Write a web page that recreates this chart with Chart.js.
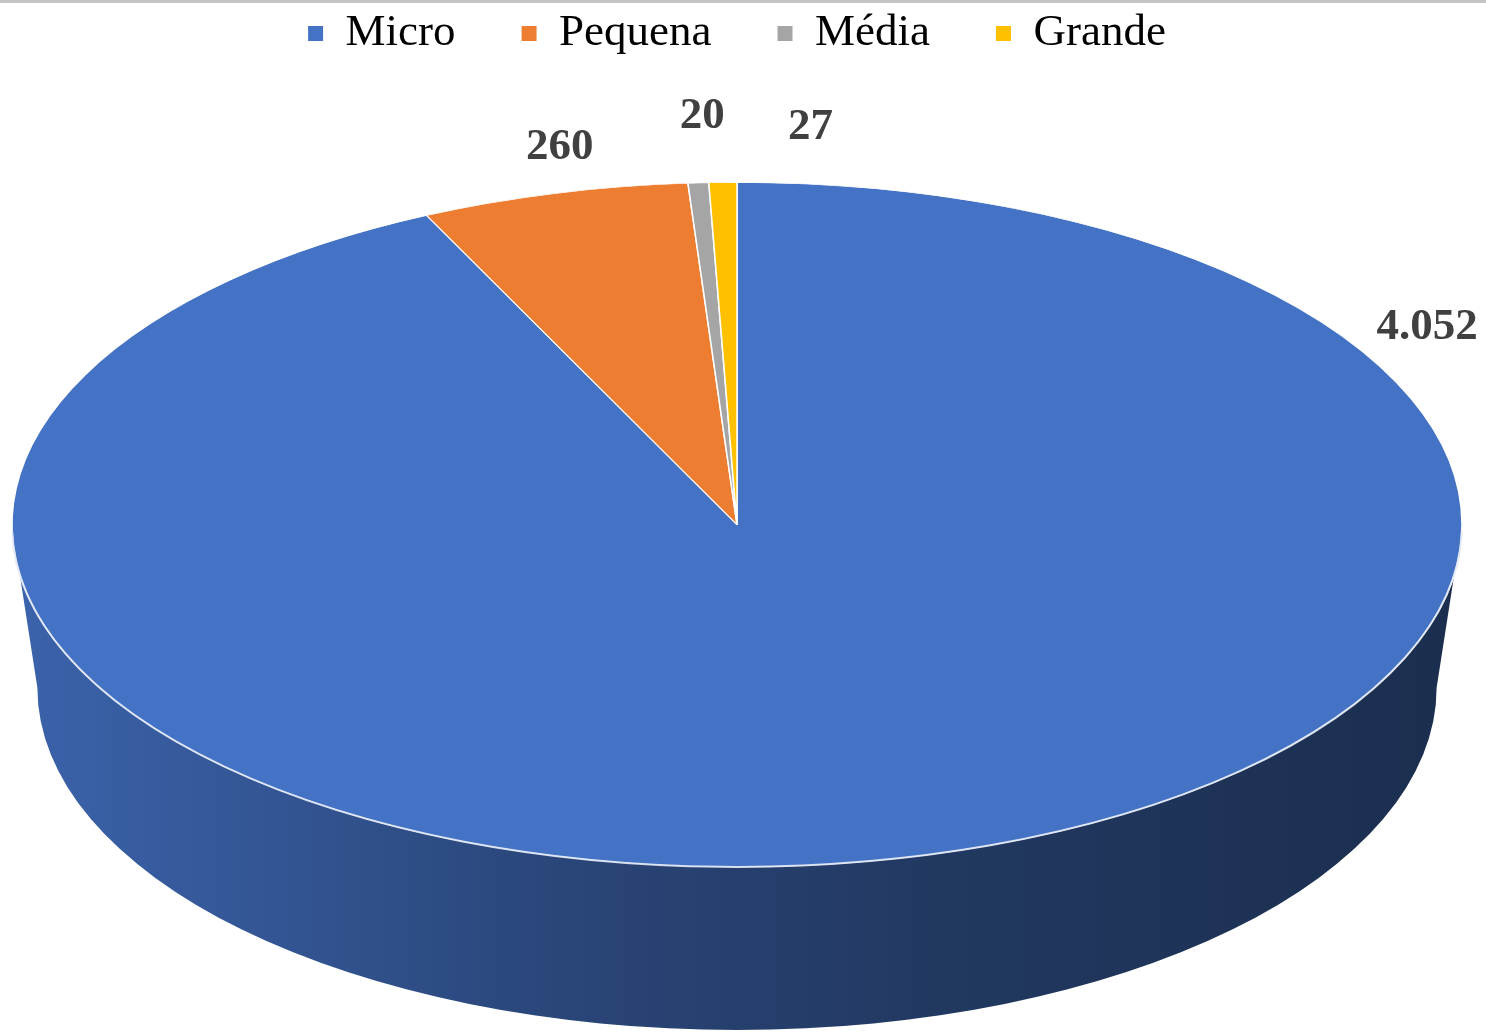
<!DOCTYPE html>
<html>
<head>
<meta charset="utf-8">
<script src="https://cdn.jsdelivr.net/npm/chart.js@4.4.1/dist/chart.umd.min.js"></script>
<style>
  html, body { margin: 0; padding: 0; background: #fff; overflow: hidden; }
  canvas { display: block; }
</style>
</head>
<body>
<canvas id="graficaPorte" width="1486" height="1034"></canvas>
<script>
// dados da grafica (empresas por porte)
const categorias = ['Micro', 'Pequena', 'Média', 'Grande'];
const empresas = [4052, 260, 20, 27];
const rotulos = ['4.052', '260', '20', '27'];
const cores = ['#4472C4', '#ED7D31', '#A5A5A5', '#FFC000'];

const FONTE = "'Liberation Serif', 'Times New Roman', serif";

// geometria do "3D": inclinacao da tampa, altura da lateral, afinamento da base
const INCLINACAO = 0.472;
const PROFUNDIDADE = 0.225;
const AFINA_BASE = 0.965;

function geometria(chart) {
  const a = chart.chartArea;
  const rx = (a.right - a.left) / 2;
  const ry = rx * INCLINACAO;
  const depth = rx * PROFUNDIDADE;
  const cx = (a.left + a.right) / 2;
  const cy = a.bottom - ry - depth;
  return { cx, cy, rx, ry, depth, rxb: rx * AFINA_BASE };
}

function sombra(hex, f) {
  const n = parseInt(hex.slice(1), 16);
  const r = Math.round(((n >> 16) & 255) * f);
  const g = Math.round(((n >> 8) & 255) * f);
  const b = Math.round((n & 255) * f);
  return 'rgb(' + r + ',' + g + ',' + b + ')';
}

const pizza3d = {
  id: 'pizza3d',
  beforeDraw(chart) {
    const ctx = chart.ctx;
    ctx.save();
    ctx.fillStyle = '#c4c4c4';
    ctx.fillRect(0, 0, chart.width, 3);
    ctx.restore();
  },
  beforeDatasetsDraw(chart) {
    const ctx = chart.ctx;
    const g = geometria(chart);
    const meta = chart.getDatasetMeta(0);

    // lateral (so a metade da frente aparece)
    meta.data.forEach((arc, i) => {
      const p = arc.getProps(['startAngle', 'endAngle'], true);
      for (let k = -1; k <= 1; k++) {
        const s = Math.max(p.startAngle, 2 * Math.PI * k);
        const e = Math.min(p.endAngle, Math.PI + 2 * Math.PI * k);
        if (e <= s) continue;
        const grad = ctx.createLinearGradient(g.cx - g.rx, 0, g.cx + g.rx, 0);
        grad.addColorStop(0, sombra(cores[i], 0.87));
        grad.addColorStop(0.4, sombra(cores[i], 0.6));
        grad.addColorStop(0.65, sombra(cores[i], 0.49));
        grad.addColorStop(1, sombra(cores[i], 0.4));
        ctx.beginPath();
        ctx.ellipse(g.cx, g.cy, g.rx, g.ry, 0, s, e);
        ctx.ellipse(g.cx, g.cy + g.depth, g.rxb, g.ry, 0, e, s, true);
        ctx.closePath();
        ctx.fillStyle = grad;
        ctx.fill();
      }
    });

    // achata a pizza numa elipse
    const arc0 = meta.data[0];
    const R = arc0.outerRadius;
    ctx.save();
    ctx.translate(g.cx, g.cy);
    ctx.scale(g.rx / R, g.ry / R);
    ctx.translate(-arc0.x, -arc0.y);
  },
  afterDatasetsDraw(chart) {
    const ctx = chart.ctx;
    ctx.restore();
    const g = geometria(chart);
    // brilho na borda da frente
    ctx.save();
    ctx.beginPath();
    ctx.ellipse(g.cx, g.cy, g.rx, g.ry, 0, 0.02, Math.PI - 0.02);
    ctx.strokeStyle = 'rgba(225,232,245,0.9)';
    ctx.lineWidth = 2;
    ctx.stroke();
    ctx.restore();
  },
  afterDraw(chart, args, opts) {
    const ctx = chart.ctx;
    const g = geometria(chart);
    ctx.save();
    ctx.font = 'bold 45px ' + FONTE;
    ctx.fillStyle = '#404040';
    ctx.textAlign = 'center';
    ctx.textBaseline = 'middle';
    opts.posicoes.forEach((pos, i) => {
      const a = pos.ang * Math.PI / 180;
      const x = g.cx + Math.cos(a) * g.rx * pos.f;
      const y = g.cy + Math.sin(a) * g.ry * pos.f;
      ctx.fillText(rotulos[i], x, y);
    });
    ctx.restore();
  }
};

const ctx = document.getElementById('graficaPorte').getContext('2d');
const grafica = new Chart(ctx, {
  type: 'pie',
  data: {
    labels: categorias,
    datasets: [{
      label: 'Empresas por porte',
      data: empresas,
      backgroundColor: cores,
      borderColor: '#ffffff',
      borderWidth: 1,
      clip: false
    }]
  },
  options: {
    responsive: false,
    devicePixelRatio: 1,
    animation: false,
    events: [],
    layout: { padding: { top: -55, left: 12, right: 24, bottom: 4 } },
    plugins: {
      legend: {
        position: 'top',
        labels: {
          font: { family: FONTE, size: 45 },
          color: '#595959',
          boxWidth: 15,
          boxHeight: 15,
          padding: 66,
          generateLabels(chart) {
            return categorias.map((c, i) => ({
              text: c,
              fillStyle: cores[i],
              strokeStyle: cores[i],
              lineWidth: 0,
              index: i
            }));
          }
        }
      },
      tooltip: { enabled: false },
      pizza3d: {
        posicoes: [
          { ang: -31.2, f: 1.113 },
          { ang: -102.5, f: 1.129 },
          { ang: -92.3, f: 1.194 },
          { ang: -85.0, f: 1.165 }
        ]
      }
    }
  },
  plugins: [pizza3d]
});
</script>
</body>
</html>
